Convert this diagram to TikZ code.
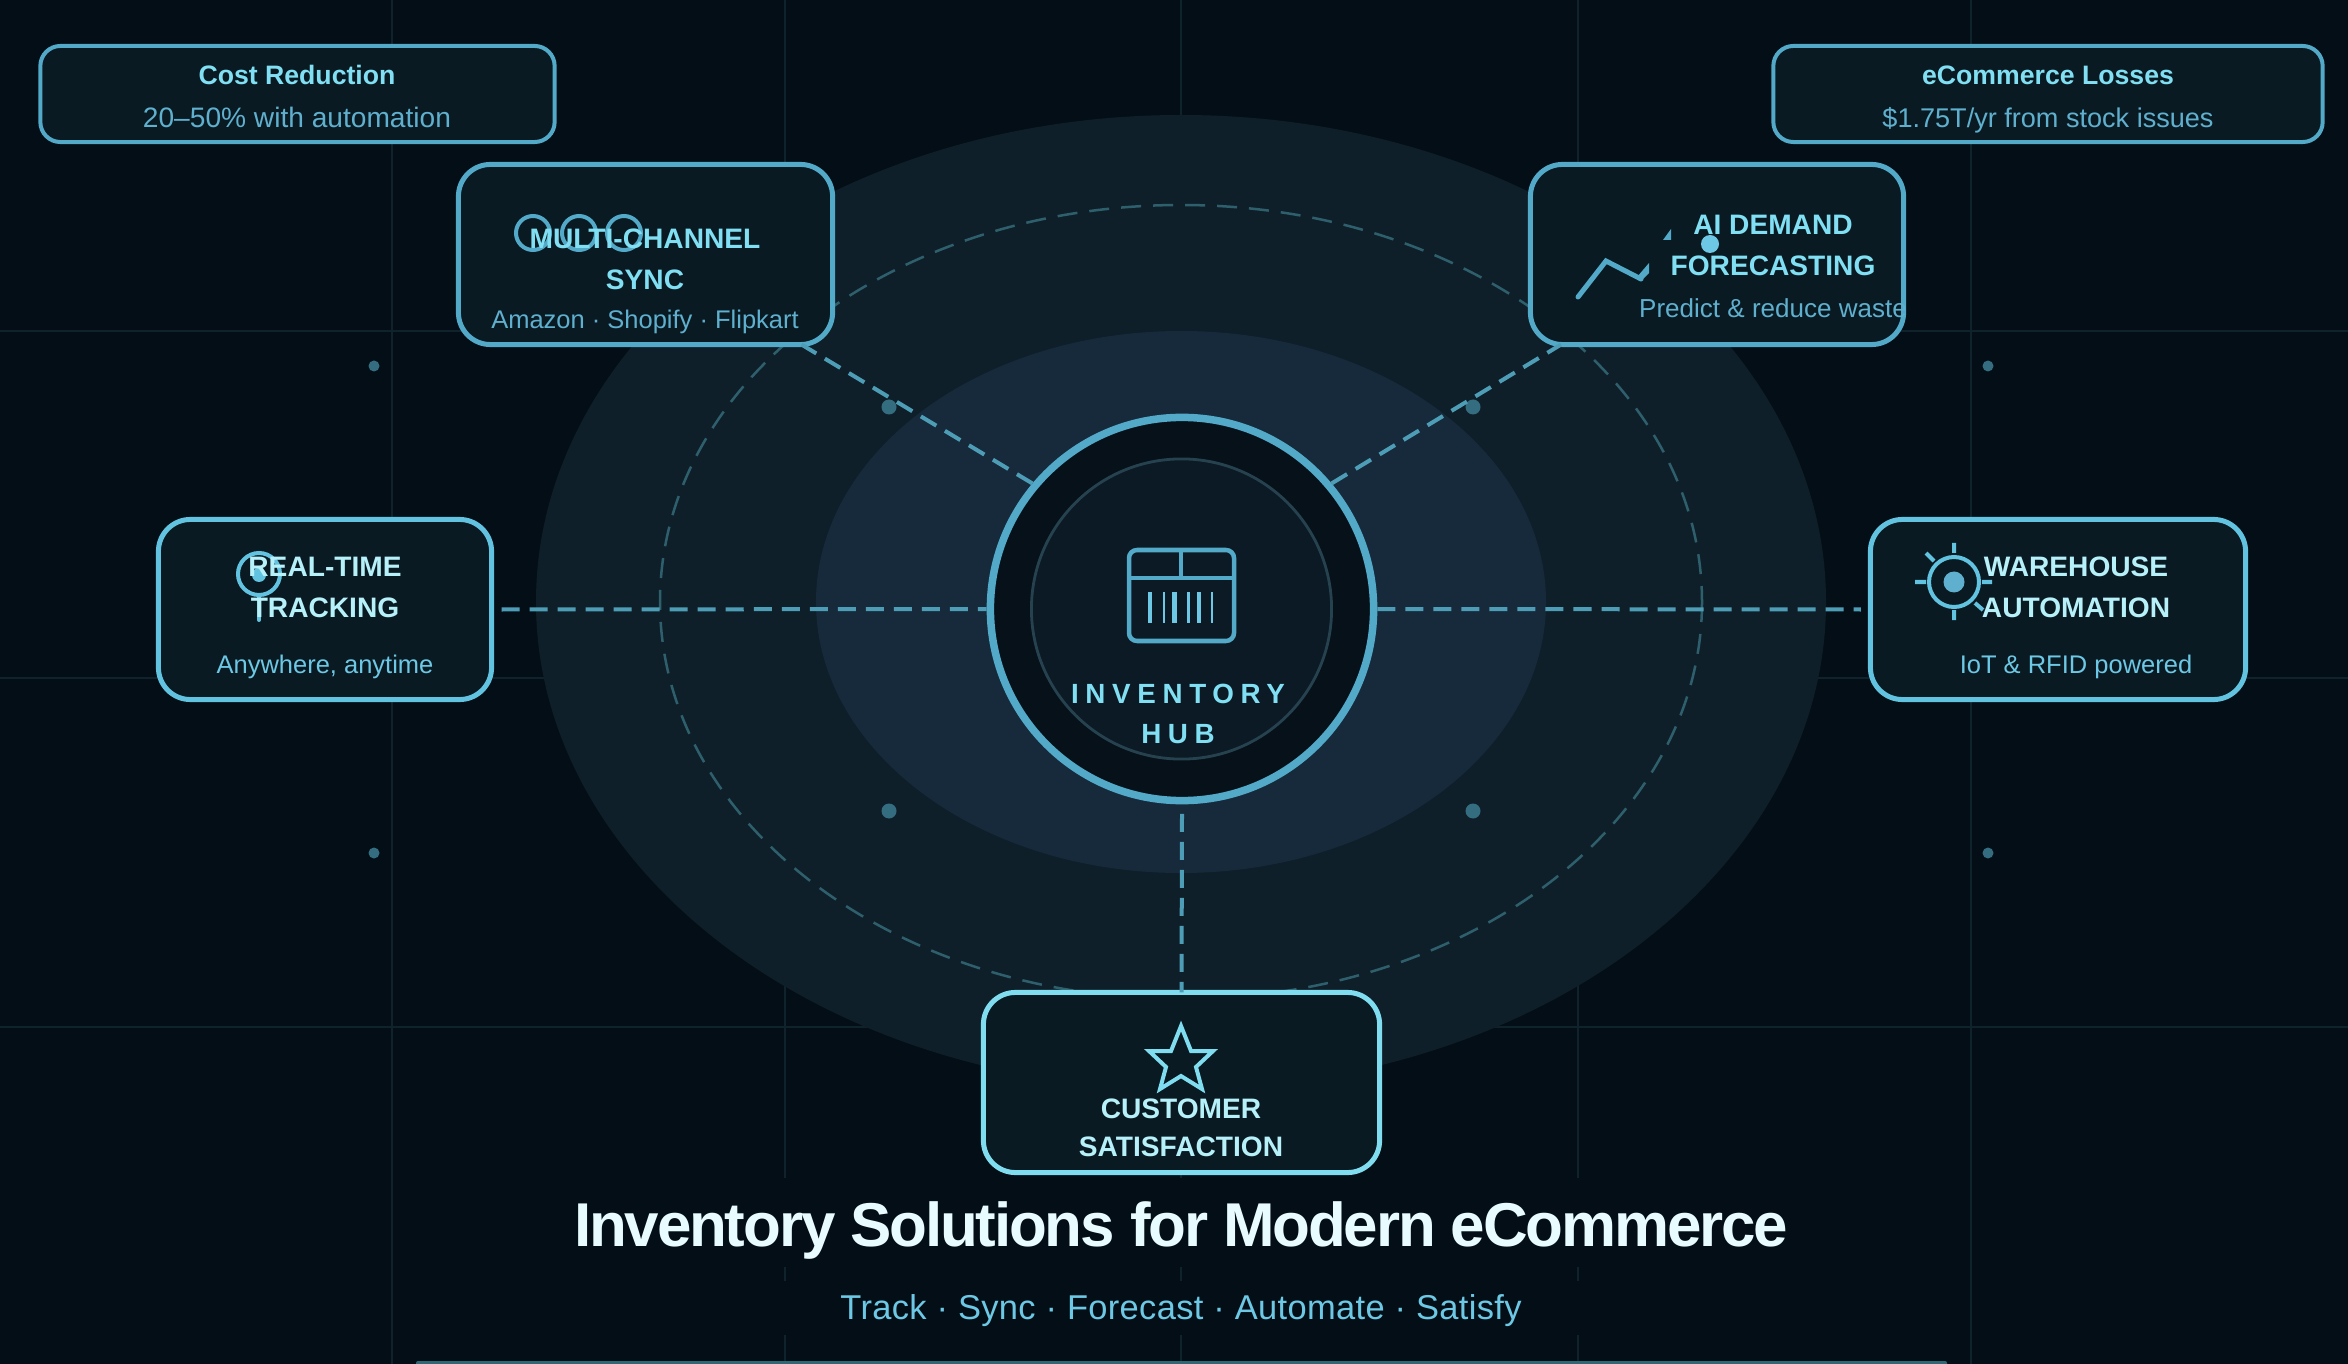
\documentclass[tikz,border=0pt]{standalone}
\usepackage{fontspec}
\setmainfont{Liberation Sans}
\newfontfamily\hubfont[LetterSpace=24]{Liberation Sans}
\newfontfamily\headfont[LetterSpace=-3.5]{Liberation Sans}
\newfontfamily\tagfont[LetterSpace=1]{Liberation Sans}
\usetikzlibrary{positioning}

\definecolor{bg}{HTML}{040E16}
\definecolor{gridc}{HTML}{10222C}
\definecolor{halo1}{HTML}{0F1F29}
\definecolor{halo2}{HTML}{162A3B}
\definecolor{orbitc}{HTML}{2E5F6C}
\definecolor{boxfill}{HTML}{0A1A23}
\definecolor{edge1}{HTML}{52A9C8}
\definecolor{edge2}{HTML}{62C3E0}
\definecolor{edge3}{HTML}{80DDF0}
\definecolor{name1}{HTML}{80DFF2}
\definecolor{name2}{HTML}{B6F0F9}
\definecolor{sub1}{HTML}{5FB0CE}
\definecolor{sub2}{HTML}{6CC8E4}
\definecolor{linkc}{HTML}{4E9DB6}
\definecolor{dotc}{HTML}{346D80}
\definecolor{ringc}{HTML}{06111A}
\definecolor{corec}{HTML}{0B1A24}
\definecolor{corel}{HTML}{27424F}
\definecolor{barc}{HTML}{2F6874}

\tikzset{
  card/.style={draw=edge1, fill=boxfill, line width=.05cm, rounded corners=.32cm,
    inner sep=0pt, outer sep=0pt, minimum height=1.80cm},
  stat/.style={draw=edge1, fill=boxfill, line width=.04cm, rounded corners=.2cm,
    inner sep=0pt, outer sep=0pt, minimum height=.96cm},
  ttl/.style={font=\bfseries\fontsize{8}{11.66}\selectfont, text=name1, align=center,
    inner sep=0pt, anchor=base},
  desc/.style={font=\fontsize{7.25}{9}\selectfont, text=sub1, inner sep=0pt, anchor=base},
  link/.style={draw=linkc, line width=.04cm, dash pattern=on .18cm off .1cm},
  icon/.style={draw=edge1, line width=.04cm},
  grd/.style={draw=gridc, line width=.02cm}
}

\begin{document}
\begin{tikzpicture}[x=.01cm, y=-.01cm]
    \useasboundingbox (0,0) rectangle (2348,1364);
    \fill[bg] (0,0) rectangle (2348,1364);

    \foreach \gx in {392,785,1181,1578,1971}
        \draw[grd] (\gx,0) -- (\gx,1364);
    \foreach \gy in {331,678,1027}
        \draw[grd] (0,\gy) -- (2348,\gy);

    \fill[halo1] (1181,602) ellipse [x radius=645, y radius=487];
    \fill[halo2] (1181,602) ellipse [x radius=365, y radius=271];
    \draw[orbitc, line width=.025cm, dash pattern=on .2cm off .12cm] (1181,602) ellipse [x radius=521, y radius=397];

    \foreach \dx/\dy/\dr in {374/366/5.5,374/853/5.5,1988/366/5.5,1988/853/5.5,889/407/7.5,1473/407/7.5,889/811/7.5,1473/811/7.5}
        \fill[dotc] (\dx,\dy) circle [radius=\dr];

    \node[circle, draw=edge1, fill=ringc, line width=.075cm, minimum size=3.83cm, inner sep=0pt] (hub) at (1182,609) {};
    \node[stat, minimum width=5.14cm] (cost) at (297.5,94) {};
    \node[stat, minimum width=5.49cm] (loss) at (2048,94) {};
    \node[card, minimum width=3.74cm] (sync) at (645.5,254.5) {};
    \node[card, minimum width=3.73cm] (fcst) at (1717,254.5) {};
    \node[card, draw=edge2, minimum width=3.33cm] (track) at (325,609.5) {};
    \node[card, draw=edge2, minimum width=3.75cm] (ware) at (2058,609.5) {};
    \node[card, draw=edge3, minimum width=3.96cm] (cust) at (1181.5,1082.5) {};

    \draw[link] (hub.140) -- (sync.-30);
    \draw[link] (hub.40) -- (fcst.210);
    \draw[link] ([xshift=.1cm]track.east) -- (hub.180);
    \draw[link] (hub.0) -- ([xshift=-.095cm]ware.west);
    \draw[link] ([yshift=-.095cm]hub.south) -- (cust.north);

    \node[circle, draw=corel, fill=corec, line width=.028cm, minimum size=3.0cm, inner sep=0pt] (core) at (1181.5,609) {};

    % hub icon
    \draw[icon, line width=.045cm, rounded corners=.08cm] (1129,550) rectangle (1234,641);
    \draw[icon] (1181,550) -- (1181,578) (1129,578) -- (1234,578);
    \foreach \bx/\bw in {1150/.04,1164/.027,1174/.05,1188/.03,1199/.04,1212/.027}
        \draw[draw=sub2, line width=\bw cm] (\bx,592) -- (\bx,623);
    \node[font=\hubfont\bfseries\fontsize{7.9}{11.1}\selectfont, text=name1, align=center, inner sep=0pt, anchor=base] (hubtxt) at (1178,743) {INVENTORY\\HUB};

    % icons under the labels
    \foreach \cx in {533,579,624}
        \draw[icon] (\cx,233) circle [radius=17];
    \draw[icon, line width=.05cm, line cap=round] (1578,297) -- (1606,261) -- (1641,279);
    \fill[edge1] (1641,281) -- (1649,273) -- (1649,263) -- (1637,277) -- cycle;
    \fill[edge1] (1663,240) -- (1671,240) -- (1671,229) -- cycle;
    \fill[sub2] (1710,244) circle [radius=9];

    \draw[icon, draw=edge2] (259,574) circle [radius=21];
    \fill[edge2] (259,575) circle [radius=7];
    \draw[icon, draw=edge2, line cap=round] (259,596) -- (259,620);

    \draw[icon, draw=edge2] (1954,582) circle [radius=25];
    \fill[sub1] (1954,582) circle [radius=10.5];
    \draw[icon, draw=edge2] (1954,543) -- (1954,553) (1954,610) -- (1954,620)
        (1915,582) -- (1926,582) (1982,582) -- (1992,582)
        (1926,553) -- (1934,561) (1975,603) -- (1983,610);

    \draw[icon, draw=edge3, miter limit=10] (1181,1026) -- (1191,1051) -- (1213,1051) -- (1196,1067) -- (1202,1089) -- (1181,1076)
        -- (1160,1089) -- (1166,1067) -- (1149,1051) -- (1171,1051) -- cycle;

    % labels
    \node[ttl, font=\bfseries\fontsize{7.58}{9}\selectfont] (costttl) at (297,84.5) {Cost Reduction};
    \node[desc, font=\fontsize{8}{9}\selectfont] (costsub) at (297,127.5) {20--50\% with automation};
    \node[ttl, font=\bfseries\fontsize{7.58}{9}\selectfont] (lossttl) at (2048,84.5) {eCommerce Losses};
    \node[desc, font=\fontsize{7.7}{9}\selectfont] (losssub) at (2048,127.5) {\$1.75T/yr from stock issues};
    \node[ttl] (syncttl) at (645,289.5) {MULTI-CHANNEL\\SYNC};
    \node[desc] (syncsub) at (645,328.5) {Amazon · Shopify · Flipkart};
    \node[ttl] (fcstttl) at (1773,275.5) {AI DEMAND\\FORECASTING};
    \node[desc, font=\fontsize{7.4}{9}\selectfont] (fcstsub) at (1773,317.5) {Predict \& reduce waste};
    \node[ttl, text=name2] (trackttl) at (325,617.5) {REAL-TIME\\TRACKING};
    \node[desc, text=sub2] (tracksub) at (325,673.5) {Anywhere, anytime};
    \node[ttl, text=name2] (warettl) at (2076,617.5) {WAREHOUSE\\AUTOMATION};
    \node[desc, text=sub2] (waresub) at (2076,673.5) {IoT \& RFID powered};
    \node[ttl, text=name2, font=\bfseries\fontsize{8}{10.8}\selectfont] (custttl) at (1181,1156.5) {CUSTOMER\\SATISFACTION};

    \node[font=\headfont\bfseries\fontsize{17.6}{20}\selectfont, text={rgb,255:red,232;green,252;blue,255}, fill=bg, inner sep=0pt, anchor=base,
        text height=.68cm, text depth=.21cm, minimum width=12.2cm] (title) at (1181,1246) {Inventory Solutions for Modern eCommerce};
    \node[font=\tagfont\fontsize{9.8}{12}\selectfont, text=sub2, fill=bg, inner sep=0pt, anchor=base,
        text height=.38cm, text depth=.15cm, minimum width=12.2cm] (tagline) at (1181,1319.5) {Track · Sync · Forecast · Automate · Satisfy};

    \fill[barc, rounded corners=.02cm] (416,1361) rectangle (1947,1370);
\end{tikzpicture}
\end{document}
